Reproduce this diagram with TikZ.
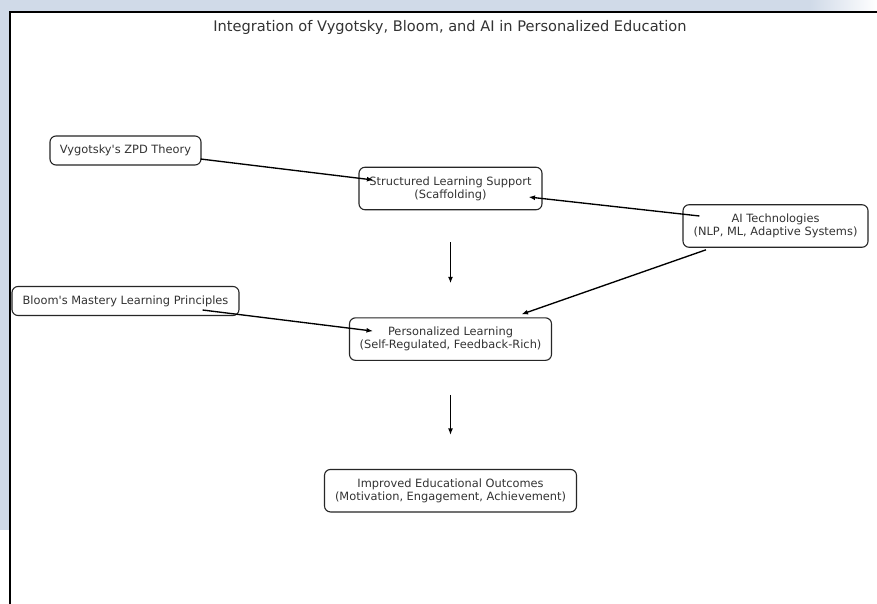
\documentclass[tikz,border=0pt]{standalone}
\usepackage{fontspec}
\newfontfamily\dejavu{DejaVu Sans}
\usetikzlibrary{arrows.meta, positioning, calc}
\definecolor{colour_bg}{HTML}{D0DAE8}
\colorlet{colour_txt}{black!80}
\colorlet{colour_edge}{black!85}

\begin{document}
\begin{tikzpicture}
   [
      x=1pt, y=-1pt,
      box/.style={draw=colour_edge, line width=1.1pt, rounded corners=6pt, align=center,
         inner sep=0pt, font=\dejavu\fontsize{11.4}{13}\selectfont, text=colour_txt},
      one line/.style={box, minimum height=29pt},
      two lines/.style={box, minimum height=42.5pt},
      link/.style={-{Latex[length=6.5pt, width=5pt]}, line width=1.35pt, black},
      node distance=107pt and 2cm % vertical and horizontal spacing
   ]

   % =======================================================
   % Window frame
   % =======================================================
   \useasboundingbox (0,0) rectangle (877,604);
   \fill[colour_bg] (0,0) rectangle (877,604);
   \shade[left color=colour_bg, right color=white] (810,0) rectangle (877,11);
   \fill[white] (0,530) rectangle (10,604);
   \fill[white] (10,12) rectangle (877,604);
   \draw[line width=1.3pt] (10,604) -- (10,12) -- (877,12);

   % Title
   \node[font=\dejavu\fontsize{14.6}{16}\selectfont, text=colour_txt] (title) at (450,27)
      {Integration of Vygotsky, Bloom, and AI in Personalized Education};

   % =======================================================
   % Central column
   % =======================================================
   \node[two lines, minimum width=183pt] (sls) at (450.5,188.5)
      {Structured Learning Support\\(Scaffolding)};
   \node[two lines, minimum width=202pt, below=107pt of sls] (pl)
      {Personalized Learning\\(Self-Regulated, Feedback-Rich)};
   \node[two lines, minimum width=252pt, below=108pt of pl] (ieo)
      {Improved Educational Outcomes\\(Motivation, Engagement, Achievement)};

   % =======================================================
   % Inputs
   % =======================================================
   \node[one line, minimum width=151pt] (vyg) at (125.5,150.5) {Vygotsky's ZPD Theory};
   \node[one line, minimum width=227pt] (bloom) at (125.5,301) {Bloom's Mastery Learning Principles};
   \node[two lines, minimum width=185pt] (ai) at (775.5,226)
      {AI Technologies\\(NLP, ML, Adaptive Systems)};

   % =======================================================
   % Arrows
   % =======================================================
   \draw[link] ($(vyg.east) + (-1,8.5)$) -- ($(sls.west) + (15,-8.5)$);
   \draw[link] ($(ai.west) + (17,-10)$) -- ($(sls.east) + (-14,8.5)$);
   \draw[link] ($(ai.south) + (-69.5,2)$) -- ($(pl.north) + (71,-3)$);
   \draw[link] ($(bloom.east) + (-37,9)$) -- ($(pl.west) + (24,-8)$);

   % Down the column
   \draw[link] ($(sls.south) + (0,32)$) -- ($(pl.north) + (0,-34)$);
   \draw[link] ($(pl.south) + (0,34)$) -- ($(ieo.north) + (0,-34)$);

\end{tikzpicture}
\end{document}
